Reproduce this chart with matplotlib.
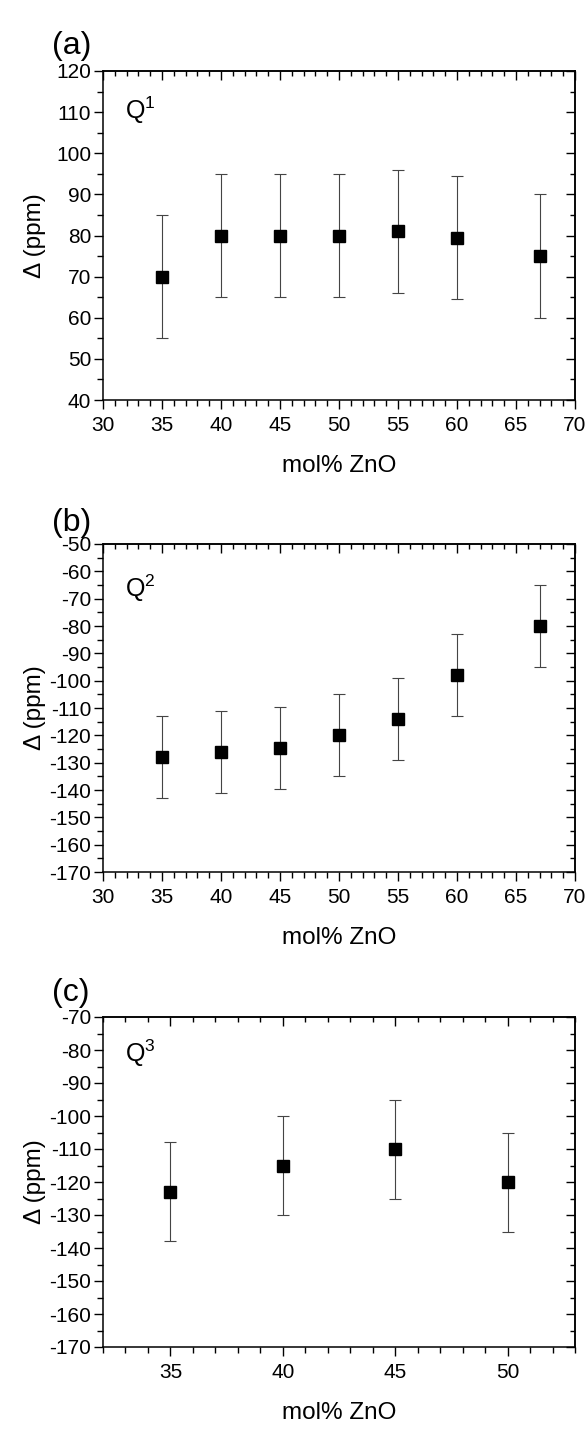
import matplotlib
matplotlib.use("Agg")
import matplotlib.pyplot as plt
from matplotlib.ticker import MultipleLocator

plt.rcParams['font.family'] = ['Liberation Sans', 'DejaVu Sans']
plt.rcParams['mathtext.fontset'] = 'custom'
plt.rcParams['mathtext.rm'] = 'Liberation Sans'
plt.rcParams['mathtext.it'] = 'Liberation Sans:italic'
plt.rcParams['axes.unicode_minus'] = False

# ---- data ----
x_a = [35, 40, 45, 50, 55, 60, 67]
y_a = [70, 80, 80, 80, 81, 79.5, 75]
e_a = [15, 15, 15, 15, 15, 15, 15]

x_b = [35, 40, 45, 50, 55, 60, 67]
y_b = [-128, -126, -124.5, -120, -114, -98, -80]
e_b = [15, 15, 15, 15, 15, 15, 15]

x_c = [35, 40, 45, 50]
y_c = [-123, -115, -110, -120]
e_c = [15, 15, 15, 15]

panel_letters = ['(a)', '(b)', '(c)']
q_labels = ['1', '2', '3']
xlims = [(30, 70), (30, 70), (32, 53)]
ylims = [(40, 120), (-170, -50), (-170, -70)]
xmajor = [5, 5, 5]
xlabel = 'mol% ZnO'
ylabel = 'Δ (ppm)'

W, H = 587, 1439
fig = plt.figure(figsize=(W / 100, H / 100), dpi=100)

# axes boxes in pixels: (left, top, right, bottom)
boxes = [(103, 71, 575, 400), (103, 544, 575, 872), (103, 1017, 575, 1347)]
letter_base = [54, 531, 1001]
q_y = [0.88, 0.866, 0.89]

datasets = [(x_a, y_a, e_a), (x_b, y_b, e_b), (x_c, y_c, e_c)]

for i, (xs, ys, es) in enumerate(datasets):
    l, t, r, b = boxes[i]
    ax = fig.add_axes([l / W, 1 - b / H, (r - l) / W, (b - t) / H])
    ax.errorbar(xs, ys, yerr=es, fmt='s', color='black', ms=8.5,
                ecolor='#444444', elinewidth=0.8, capsize=4, capthick=0.8,
                zorder=3)
    ax.set_xlim(*xlims[i])
    ax.set_ylim(*ylims[i])
    ax.xaxis.set_major_locator(MultipleLocator(xmajor[i]))
    ax.xaxis.set_minor_locator(MultipleLocator(1))
    ax.yaxis.set_major_locator(MultipleLocator(10))
    ax.yaxis.set_minor_locator(MultipleLocator(5))
    ax.tick_params(which='both', direction='out', width=1.0, labelsize=15,
                   colors='black')
    ax.tick_params(which='major', length=6.5)
    ax.tick_params(which='minor', length=4)
    ax.tick_params(axis='y', pad=2)
    ax.tick_params(axis='x', pad=5)
    for s in ax.spines.values():
        s.set_linewidth(1.1)

    # top / right axes with inward ticks
    secx = ax.secondary_xaxis('top')
    secx.xaxis.set_major_locator(MultipleLocator(xmajor[i]))
    secx.xaxis.set_minor_locator(MultipleLocator(1))
    secx.tick_params(which='both', direction='in', width=1.0, labeltop=False)
    secx.tick_params(which='major', length=6.5)
    secx.tick_params(which='minor', length=3.5)
    secx.spines['top'].set_linewidth(1.1)
    secy = ax.secondary_yaxis('right')
    secy.yaxis.set_major_locator(MultipleLocator(10))
    secy.yaxis.set_minor_locator(MultipleLocator(5))
    secy.tick_params(which='both', direction='in', width=1.0, labelright=False)
    secy.tick_params(which='major', length=6.5)
    secy.tick_params(which='minor', length=3.5)
    secy.spines['right'].set_linewidth(1.1)

    ax.set_xlabel(xlabel, fontsize=17.5)
    ax.xaxis.set_label_coords(0.5, -55 / (b - t))
    ax.xaxis.label.set_va('top')
    ax.set_ylabel(ylabel, fontsize=17.5)
    ax.yaxis.set_label_coords((35 - l) / (r - l), 0.5)
    ax.yaxis.label.set_va('center')

    ax.text(0.047, q_y[i], r'Q$^{\mathrm{' + q_labels[i] + r'}}$',
            transform=ax.transAxes, fontsize=18, va='center', ha='left')

    fig.text(52 / W, 1 - letter_base[i] / H, panel_letters[i], fontsize=23,
             ha='left', va='baseline')

fig.savefig('out.png', dpi=100, facecolor='white')
